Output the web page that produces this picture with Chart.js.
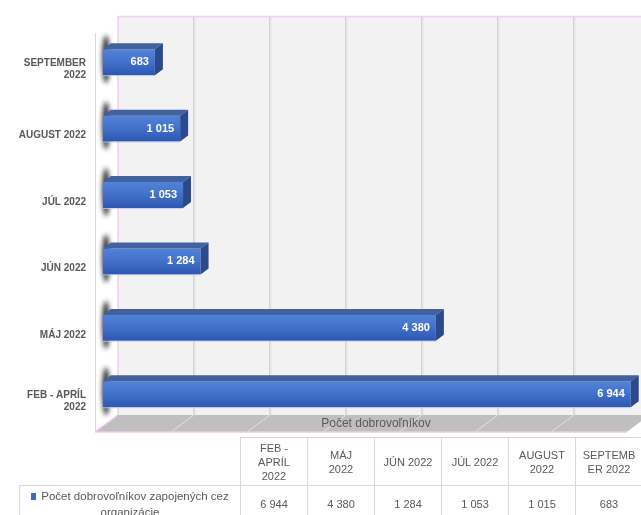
<!DOCTYPE html>
<html lang="sk">
<head>
    <meta charset="UTF-8">
    <meta name="viewport" content="width=device-width, initial-scale=1.0">
    <title>Počet dobrovoľníkov</title>
    <script src="https://cdn.jsdelivr.net/npm/chart.js@4.4.1/dist/chart.umd.min.js"></script>
    <style>
        html, body { margin: 0; padding: 0; background: #fff; }
        body { width: 641px; height: 515px; overflow: hidden; position: relative; font-family: 'Liberation Sans', Arial, sans-serif; }
        #wrap { position: absolute; left: 0; top: 0; width: 641px; height: 515px; }
        #tbl { position: absolute; left: 19px; top: 437px; width: 623px; border-collapse: collapse; table-layout: fixed; color: #595959; font-size: 11px; }
        #tbl td { border: 1px solid #d9d9d9; text-align: center; vertical-align: middle; padding: 0; line-height: 14px; white-space: pre-line; }
        #tbl tr.head td { height: 47px; }
        #tbl tr.data td { height: 35px; }
        #tbl td.blank { border-top: none; border-left: none; }
        #tbl td.name { line-height: 16px; font-size: 11.5px; }
        #tbl .key { display: inline-block; width: 5px; height: 7px; background: #3d6cc6; margin-right: 5px; }
    </style>
</head>
<body>
    <div id="wrap"><canvas id="volChart"></canvas></div>
    <table id="tbl"></table>
    <script>
        // months, bottom to top in the chart (table order left to right)
        const categories = [['FEB - APRÍL', '2022'], 'MÁJ 2022', 'JÚN 2022', 'JÚL 2022', 'AUGUST 2022', ['SEPTEMBER', '2022']];
        const tableHeaders = ['FEB -\nAPRÍL\n2022', 'MÁJ\n2022', 'JÚN 2022', 'JÚL 2022', 'AUGUST\n2022', 'SEPTEMB\nER 2022'];
        const volunteers = [6944, 4380, 1284, 1053, 1015, 683];
        const seriesName = 'Počet dobrovoľníkov zapojených  cez\norganizácie';
        const axisTitle = 'Počet dobrovoľníkov';

        const fmt = v => String(v).replace(/\B(?=(\d{3})+(?!\d))/g, ' ');

        // data table under the chart
        let html = '<colgroup><col style="width:221px">' + tableHeaders.map(() => '<col style="width:67px">').join('') + '</colgroup>';
        html += '<tr class="head"><td class="blank"></td>' + tableHeaders.map(h => `<td>${h}</td>`).join('') + '</tr>';
        html += '<tr class="data"><td class="name"><span class="key"></span>' + seriesName + '</td>' +
            volunteers.map(v => `<td>${fmt(v)}</td>`).join('') + '</tr>';
        document.getElementById('tbl').innerHTML = html;

        const WALL = { dx: 15, dy: -12.5 };   // back wall offset from the bar plane
        const FRONT = { dx: -8, dy: 4.5 };    // front edge of floor
        const DEPTH = { dx: 8, dy: -6 };      // depth of each bar

        const scene3d = {
            id: 'scene3d',
            beforeDatasetsDraw(chart) {
                const { ctx, chartArea: a, scales: { x } } = chart;
                const wl = a.left + WALL.dx, wt = a.top + WALL.dy, wb = a.bottom + WALL.dy;
                const wr = a.right + WALL.dx;
                ctx.save();
                // back wall
                ctx.fillStyle = '#f2f2f2';
                ctx.fillRect(wl, wt, wr - wl, wb - wt);
                // grid lines on the wall
                const ticks = x.ticks.length ? x.ticks.map(t => t.value) : [];
                ticks.forEach(v => {
                    if (v === 0) return;
                    const px = x.getPixelForValue(v) + WALL.dx;
                    ctx.strokeStyle = '#e3e3e3';
                    ctx.lineWidth = 2;
                    ctx.beginPath(); ctx.moveTo(px + 0.5, wt); ctx.lineTo(px + 0.5, wb); ctx.stroke();
                    ctx.strokeStyle = '#d4d4d4';
                    ctx.lineWidth = 1;
                    ctx.beginPath(); ctx.moveTo(px - 0.5, wt); ctx.lineTo(px - 0.5, wb); ctx.stroke();
                });
                // wall edges
                ctx.strokeStyle = '#f5cdf5';
                ctx.lineWidth = 1.5;
                ctx.beginPath(); ctx.moveTo(wl, wb); ctx.lineTo(wl, wt); ctx.lineTo(wr, wt); ctx.stroke();
                // left wall front edge
                ctx.strokeStyle = '#d9d9d9';
                ctx.lineWidth = 1;
                ctx.beginPath();
                ctx.moveTo(a.left + FRONT.dx + 0.5, a.top + 4);
                ctx.lineTo(a.left + FRONT.dx + 0.5, a.bottom + FRONT.dy);
                ctx.stroke();
                // floor
                const fl = a.left + FRONT.dx, fb = a.bottom + FRONT.dy, fr = a.right + FRONT.dx;
                ctx.fillStyle = '#bfbfbf';
                ctx.beginPath();
                ctx.moveTo(wl, wb); ctx.lineTo(wr, wb); ctx.lineTo(fr, fb); ctx.lineTo(fl, fb);
                ctx.closePath(); ctx.fill();
                ctx.strokeStyle = 'rgba(255,255,255,0.55)';
                ctx.lineWidth = 1;
                ticks.forEach(v => {
                    if (v === 0) return;
                    const px = x.getPixelForValue(v);
                    ctx.beginPath(); ctx.moveTo(px + WALL.dx, wb); ctx.lineTo(px + FRONT.dx, fb); ctx.stroke();
                });
                ctx.strokeStyle = '#f0c8f0';
                ctx.lineWidth = 1.5;
                ctx.beginPath(); ctx.moveTo(fl, fb); ctx.lineTo(fr, fb); ctx.stroke();
                ctx.beginPath(); ctx.moveTo(fl, fb); ctx.lineTo(wl, wb); ctx.stroke();
                // axis title lying on the floor
                ctx.fillStyle = '#595959';
                ctx.font = '12px "Liberation Sans", Arial, sans-serif';
                ctx.textAlign = 'center';
                ctx.textBaseline = 'middle';
                ctx.fillText(axisTitle, (a.left + a.right) / 2 + 7, (wb + fb) / 2 + 0.5);
                // shadows of the bar ends on the left wall
                const meta = chart.getDatasetMeta(0);
                ctx.filter = 'blur(2.5px)';
                ctx.fillStyle = 'rgba(0,0,0,0.9)';
                meta.data.forEach(bar => {
                    ctx.beginPath();
                    ctx.ellipse(bar.base + 3, bar.y - 3, 3.5, bar.height / 2 + 11, 0, 0, Math.PI * 2);
                    ctx.fill();
                });
                ctx.restore();
            },
            afterDatasetsDraw(chart) {
                const { ctx } = chart;
                const meta = chart.getDatasetMeta(0);
                ctx.save();
                meta.data.forEach((bar, i) => {
                    const top = bar.y - bar.height / 2, bot = bar.y + bar.height / 2;
                    const l = bar.base, r = bar.x;
                    // top face
                    ctx.fillStyle = '#41619f';
                    ctx.beginPath();
                    ctx.moveTo(l, top); ctx.lineTo(l + DEPTH.dx, top + DEPTH.dy);
                    ctx.lineTo(r + DEPTH.dx, top + DEPTH.dy); ctx.lineTo(r, top);
                    ctx.closePath(); ctx.fill();
                    // side face
                    ctx.fillStyle = '#2a4a8c';
                    ctx.beginPath();
                    ctx.moveTo(r, top); ctx.lineTo(r + DEPTH.dx, top + DEPTH.dy);
                    ctx.lineTo(r + DEPTH.dx, bot + DEPTH.dy); ctx.lineTo(r, bot);
                    ctx.closePath(); ctx.fill();
                    // soft light edge below the bar
                    ctx.strokeStyle = 'rgba(190,205,235,0.8)';
                    ctx.lineWidth = 1;
                    ctx.beginPath(); ctx.moveTo(l, bot + 0.5); ctx.lineTo(r, bot + 0.5); ctx.stroke();
                    // value label
                    ctx.fillStyle = '#ffffff';
                    ctx.font = 'bold 11px "Liberation Sans", Arial, sans-serif';
                    ctx.textAlign = 'right';
                    ctx.textBaseline = 'middle';
                    ctx.fillText(fmt(volunteers[i]), r - 6, bar.y);
                });
                ctx.restore();
            }
        };

        const barFill = context => {
            const chart = context.chart;
            if (!chart.chartArea || !chart.scales.y) return '#4472c4';
            const y = chart.scales.y.getPixelForValue(context.dataIndex);
            const g = chart.ctx.createLinearGradient(0, y - 13, 0, y + 13);
            g.addColorStop(0, '#5283d6');
            g.addColorStop(0.45, '#4372cc');
            g.addColorStop(1, '#2d57b1');
            return g;
        };

        new Chart(document.getElementById('volChart'), {
            type: 'bar',
            data: {
                labels: categories,
                datasets: [{
                    label: seriesName,
                    data: volunteers,
                    backgroundColor: barFill,
                    borderWidth: 0,
                    barPercentage: 0.39,
                    categoryPercentage: 1
                }]
            },
            options: {
                indexAxis: 'y',
                responsive: true,
                maintainAspectRatio: false,
                animation: false,
                layout: { padding: { left: 0, right: 6, top: 25.5, bottom: 87.5 } },
                scales: {
                    x: {
                        display: false,
                        min: 0,
                        max: 7000,
                        ticks: { stepSize: 1000 }
                    },
                    y: {
                        reverse: true,
                        grid: { display: false, drawTicks: false },
                        border: { display: false },
                        ticks: {
                            color: '#595959',
                            font: { family: '"Liberation Sans", Arial, sans-serif', size: 10, weight: 'bold' },
                            padding: 17,
                            labelOffset: 7
                        },
                        afterFit(scale) { scale.width = 103; }
                    }
                },
                plugins: {
                    legend: { display: false },
                    tooltip: { enabled: false }
                }
            },
            plugins: [scene3d]
        });
    </script>
</body>
</html>
